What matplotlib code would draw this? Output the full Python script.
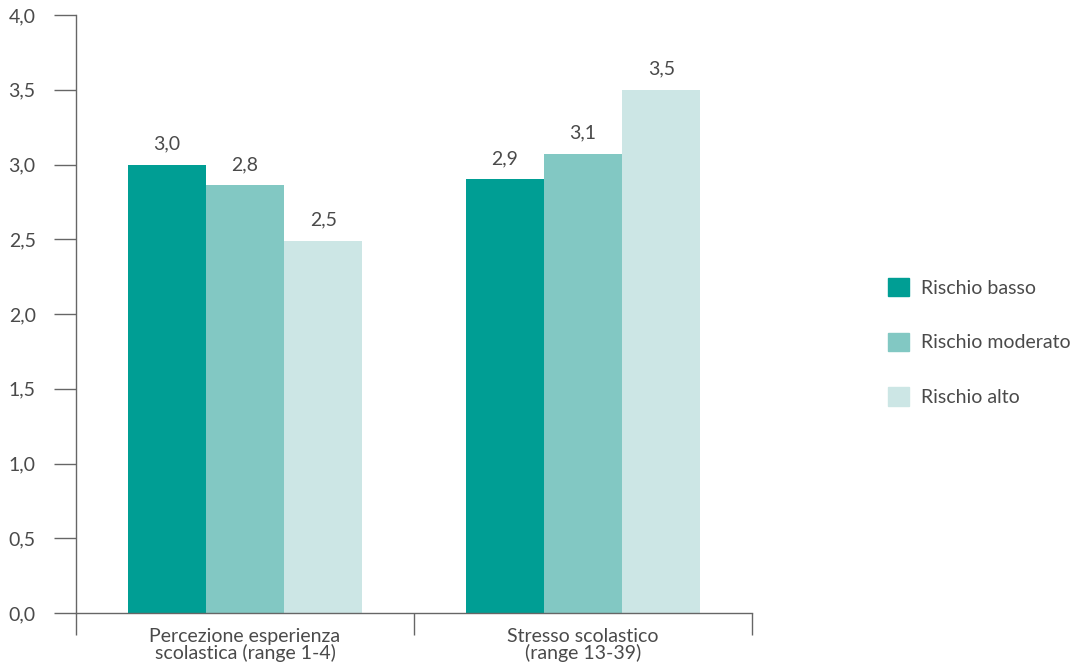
import numpy as np
import matplotlib.pyplot as plt
from matplotlib.patches import Patch

plt.rcParams['font.family'] = ['Lato', 'DejaVu Sans']

categorie = ["Percezione esperienza\nscolastica (range 1-4)", "Stresso scolastico\n(range 13-39)"]
serie = ["Rischio basso", "Rischio moderato", "Rischio alto"]
rischio_basso = [3.0, 2.9]
rischio_moderato = [2.86, 3.07]
rischio_alto = [2.49, 3.5]
etichette = [["3,0", "2,9"], ["2,8", "3,1"], ["2,5", "3,5"]]
yticks = [0.0, 0.5, 1.0, 1.5, 2.0, 2.5, 3.0, 3.5, 4.0]
colori = ["#009E94", "#82C8C3", "#CCE6E5"]
testo = "#4a4a4a"
fs = 14

fig = plt.figure(figsize=(10.91, 6.72), dpi=100)
ax = fig.add_axes([76/1091, 59/672, 676/1091, 598/672])

x = np.arange(len(categorie)) + 0.5
w = 0.2315
valori = [rischio_basso, rischio_moderato, rischio_alto]
for i, (vals, col) in enumerate(zip(valori, colori)):
    pos = x + (i - 1) * w
    ax.bar(pos, vals, width=w, color=col, label=serie[i])
    for p, v, t in zip(pos, vals, etichette[i]):
        ax.annotate(t, (p, v), xytext=(0, 9), textcoords="offset points",
                    ha="center", va="bottom", fontsize=fs, color=testo)

ax.set_xlim(0, 2)
ax.set_ylim(0, 4)
ax.set_yticks(yticks)
ax.set_yticklabels([f"{t:.1f}".replace(".", ",") for t in yticks], fontsize=fs, color=testo)
ax.set_xticks([0, 1, 2])
ax.set_xticklabels([])
ax.set_xticks(x, minor=True)
ax.set_xticklabels(categorie, minor=True, fontsize=fs, color=testo, linespacing=0.9)
ax.tick_params(axis="x", which="minor", length=0, pad=11)
ax.tick_params(axis="x", which="major", length=16, color="#666666", width=1)
ax.tick_params(axis="y", length=16, color="#666666", width=1, pad=13)

for s in ["top", "right"]:
    ax.spines[s].set_visible(False)
for s in ["left", "bottom"]:
    ax.spines[s].set_color("#666666")
    ax.spines[s].set_linewidth(1)

handles = [Patch(color=c, label=l) for c, l in zip(colori, serie)]
fig.legend(handles=handles, loc="center left", bbox_to_anchor=(878/1091, 330/672),
           frameon=False, fontsize=fs, handlelength=1.1, handleheight=1.1,
           labelspacing=1.85, handletextpad=0.6, borderpad=0, labelcolor=testo)

fig.savefig("out.png", dpi=100)
